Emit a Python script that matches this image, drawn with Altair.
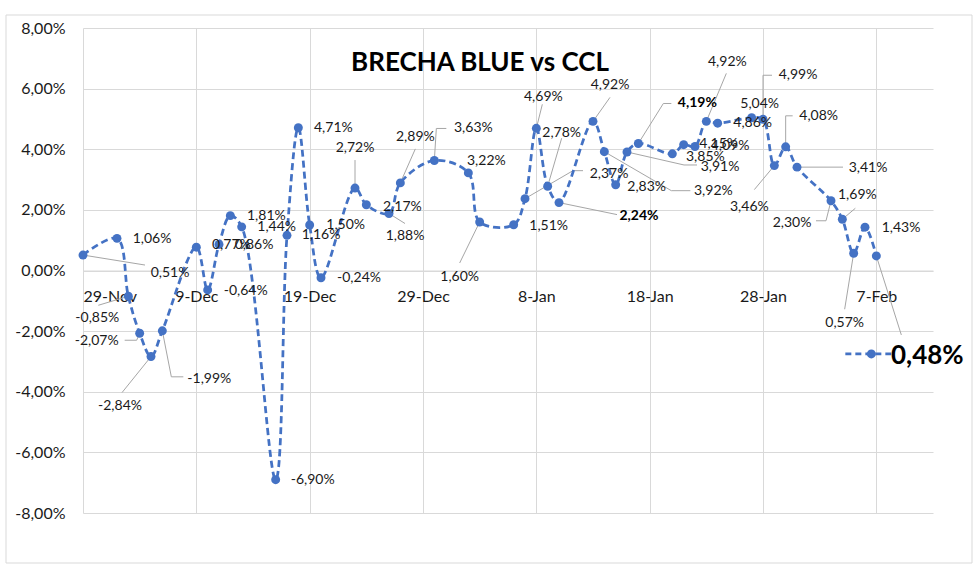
import altair as alt
import pandas as pd

# ---------------- data ----------------
fechas = [
    "2019-11-29", "2019-12-02", "2019-12-03", "2019-12-04", "2019-12-05", "2019-12-06",
    "2019-12-09", "2019-12-10", "2019-12-11", "2019-12-12", "2019-12-13",
    "2019-12-16", "2019-12-17", "2019-12-18", "2019-12-19", "2019-12-20",
    "2019-12-23", "2019-12-24", "2019-12-26", "2019-12-27", "2019-12-30",
    "2020-01-02", "2020-01-03",
    "2020-01-06", "2020-01-07", "2020-01-08", "2020-01-09", "2020-01-10",
    "2020-01-13", "2020-01-14", "2020-01-15", "2020-01-16", "2020-01-17",
    "2020-01-20", "2020-01-21", "2020-01-22", "2020-01-23", "2020-01-24",
    "2020-01-27", "2020-01-28", "2020-01-29", "2020-01-30", "2020-01-31",
    "2020-02-03", "2020-02-04", "2020-02-05", "2020-02-06", "2020-02-07",
]
brecha = [
    0.51, 1.06, -0.85, -2.07, -2.84, -1.99,
    0.77, -0.64, 0.86, 1.81, 1.44,
    -6.90, 1.16, 4.71, 1.50, -0.24,
    2.72, 2.17, 1.88, 2.89, 3.63,
    3.22, 1.60,
    1.51, 2.37, 4.69, 2.78, 2.24,
    4.92, 3.92, 2.83, 3.91, 4.19,
    3.85, 4.15, 4.09, 4.92, 4.86,
    5.04, 4.99, 3.46, 4.08, 3.41,
    2.30, 1.69, 0.57, 1.43, 0.48,
]
tick_labels = ["29-Nov", "9-Dec", "19-Dec", "29-Dec", "8-Jan", "18-Jan", "28-Jan", "7-Feb"]
y_ticks = [-8, -6, -4, -2, 0, 2, 4, 6, 8]
titulo = "BRECHA BLUE vs CCL"

# ---------------- label layout (pixel offsets from each point) ----------------
label_offsets = [
    (87, 18), (35, 1), (-31, 22), (-43, 8), (-31, 49), (47, 48),
    (35, -2), (38, 1), (35, 1), (36, 0), (35, 0),
    (37, 0), (34, 0), (35, 0), (36, 0), (38, 0),
    (0, -40), (36, 2), (16, 22), (15, -46), (39, -32),
    (18, -12), (-20, 55),
    (35, 1), (84, -25), (7, -31), (14, -53), (80, 13),
    (17, -36), (109, 39), (31, 2), (93, 15), (59, -40),
    (33, 3), (35, -1), (35, -1), (21, -59), (35, 0),
    (8, -14), (35, -44), (-25, 41), (33, -31), (71, 1),
    (-39, 22), (15, -24), (-9, 70), (36, 1), (51, 100),
]
bold_idx = {27, 32, 47}
big_idx = {47}
leaders = {
    0: [(62, 10)], 2: [(-30, 9)], 3: [(-3, 7), (-15, 7)], 4: [(-29, 36)],
    5: [(9, 46), (21, 46)], 16: [(0, -28)], 18: [(16, 10)], 19: [(15, -34)],
    20: [(2, -32), (12, -32)], 22: [(-20, 41)], 24: [(48, -28), (58, -28)],
    25: [(6, -24)], 26: [(14, -48)], 27: [(58, 12)], 28: [(17, -24)],
    29: [(67, 39), (86, 39)], 31: [(57, 13), (70, 13)], 32: [(25, -40), (33, -40)],
    36: [(20, -48)], 39: [(0, -44), (9, -44)], 40: [(-20, 24)],
    41: [(0, -31), (7, -31)], 42: [(46, 0)], 43: [(-5, 20), (-15, 20)],
    44: [(13, -11)], 45: [(-9, 56)], 47: [(25, 79)],
}
key_line = [(-31, 98), (17, 98)]
key_dot = (-5, 98)

BLUE = "#4472C4"
GRID = "#d9d9d9"
TXT = "#1a1a1a"
FONT = "Lato"
W, H = 850, 485
XDOM = [0, 75]
YDOM = [-8, 8]
PX_X = (XDOM[1] - XDOM[0]) / W   # days per pixel
PX_Y = (YDOM[1] - YDOM[0]) / H   # percent per pixel

# ---------------- frames ----------------
df = pd.DataFrame({"fecha": pd.to_datetime(fechas), "brecha": brecha})
df["dia"] = (df["fecha"] - df["fecha"].iloc[0]).dt.days
df["etiqueta"] = [f"{v:.2f}".replace(".", ",") + "%" for v in brecha]
df["lx"] = df["dia"] + [o[0] * PX_X for o in label_offsets]
df["ly"] = df["brecha"] - pd.Series([o[1] * PX_Y for o in label_offsets])
df["bold"] = [i in bold_idx for i in range(len(df))]
df["tam"] = [26 if i in big_idx else 14 for i in range(len(df))]

rows = []
for i, verts in leaders.items():
    pts = [(0, 0)] + verts
    for k, (dx, dy) in enumerate(pts):
        rows.append({"lid": i, "k": k,
                     "dia": df.loc[i, "dia"] + dx * PX_X,
                     "brecha": brecha[i] - dy * PX_Y})
lead = pd.DataFrame(rows)

last = len(df) - 1
key = pd.DataFrame([
    {"k": k, "dia": df.loc[last, "dia"] + dx * PX_X, "brecha": brecha[last] - dy * PX_Y}
    for k, (dx, dy) in enumerate(key_line)
])
keydot = pd.DataFrame([{"dia": df.loc[last, "dia"] + key_dot[0] * PX_X,
                        "brecha": brecha[last] - key_dot[1] * PX_Y}])

# ---------------- encodings ----------------
label_arr = "[" + ",".join(f"'{t}'" for t in tick_labels) + "]"
xscale = alt.Scale(domain=XDOM, nice=False, zero=False)
yscale = alt.Scale(domain=YDOM, nice=False)
xaxis = alt.Axis(
    values=[10 * i for i in range(len(tick_labels))],
    labelExpr=f"{label_arr}[round(datum.value/10)]",
    offset=-H / 2, grid=True, gridColor=GRID, gridWidth=1,
    domainColor=GRID, domainWidth=1, ticks=False,
    labelPadding=18, labelFontSize=16, labelFont=FONT, labelColor=TXT,
    title=None, labelOverlap=False,
)
yaxis = alt.Axis(
    values=y_ticks,
    labelExpr="(datum.value < 0 ? '-' : '') + replace(format(abs(datum.value), '.2f'), '.', ',') + '%'",
    grid=True, gridColor=GRID, gridWidth=1, domain=False, ticks=False,
    labelPadding=18, labelFontSize=16, labelFont=FONT, labelColor=TXT,
    title=None,
)
X = alt.X("dia:Q", scale=xscale, axis=xaxis)
Y = alt.Y("brecha:Q", scale=yscale, axis=yaxis)
LX = alt.X("lx:Q", scale=xscale, axis=xaxis)
LY = alt.Y("ly:Q", scale=yscale, axis=yaxis)

border = alt.Chart(pd.DataFrame({"a": [0]})).mark_rect(
    filled=False, stroke=GRID, strokeWidth=1
).encode(x=alt.value(-77), x2=alt.value(889), y=alt.value(-13), y2=alt.value(535))

leader_layer = alt.Chart(lead).mark_line(color="#a6a6a6", strokeWidth=1).encode(
    x=X, y=Y, detail="lid:N", order="k:Q"
)
line = alt.Chart(df).mark_line(
    interpolate="catmull-rom", color=BLUE, strokeWidth=2.75, strokeDash=[7, 4]
).encode(x=X, y=Y)
points = alt.Chart(df).mark_circle(size=80, color=BLUE, opacity=1).encode(x=X, y=Y)

labels = alt.Chart(df).transform_filter("!datum.bold").mark_text(
    font=FONT, fontSize=14, color=TXT, align="center", baseline="middle"
).encode(x=LX, y=LY, text="etiqueta:N")
labels_b = alt.Chart(df).transform_filter("datum.bold").mark_text(
    font=FONT, fontWeight="bold", color="#000000", align="center", baseline="middle"
).encode(x=LX, y=LY, text="etiqueta:N", size=alt.Size("tam:Q", scale=None))

key_layer = alt.Chart(key).mark_line(color=BLUE, strokeWidth=2.75, strokeDash=[6, 4]).encode(
    x=X, y=Y, order="k:Q"
)
key_pt = alt.Chart(keydot).mark_circle(size=80, color=BLUE, opacity=1).encode(x=X, y=Y)

chart = alt.layer(
    border, leader_layer, line, points, labels, labels_b, key_layer, key_pt
).properties(
    width=W, height=H,
    padding={"left": 83, "top": 28, "right": 47, "bottom": 61},
    autosize=alt.AutoSizeParams(type="none"),
    title=alt.TitleParams(
        titulo, font=FONT, fontSize=26, fontWeight="bold", color="#000000",
        anchor="middle", dx=-28, dy=61, offset=0,
    ),
).configure_view(stroke=None)

chart.save("out.html", embed_options={"renderer": "svg", "actions": False})
